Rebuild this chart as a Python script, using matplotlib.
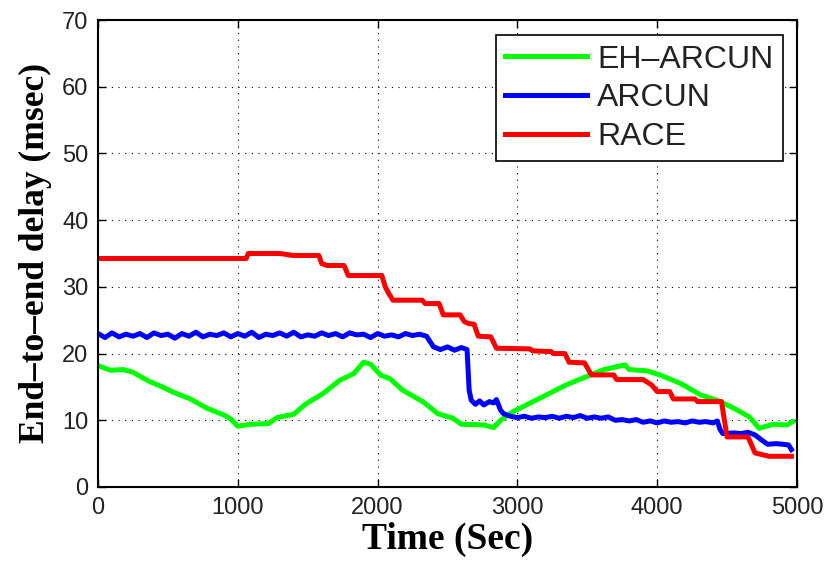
import matplotlib
matplotlib.use("Agg")
import matplotlib.pyplot as plt

# ---------------- data ----------------
eh_t = [0, 90, 180, 250, 300, 370, 450, 540, 660, 780, 900, 950, 1000, 1090, 1220, 1280,
        1400, 1490, 1610, 1730, 1830, 1900, 1950, 2020, 2090, 2180, 2330, 2430, 2540, 2600,
        2760, 2830, 2880, 2970, 3160, 3350, 3500, 3620, 3770, 3800, 3930, 4020, 4170, 4310,
        4430, 4550, 4660, 4730, 4830, 4930, 4970]
eh_v = [18.2, 17.5, 17.6, 17.2, 16.6, 15.8, 15.1, 14.2, 13.2, 11.8, 10.8, 10.2, 9.1, 9.4, 9.5, 10.4,
        10.9, 12.5, 14.0, 16.0, 17.0, 18.7, 18.4, 16.8, 16.2, 14.5, 12.7, 11.0, 10.3, 9.4,
        9.3, 8.9, 10.0, 11.3, 13.3, 15.3, 16.6, 17.6, 18.3, 17.6, 17.4, 16.8, 15.5, 13.8,
        13.0, 11.8, 10.5, 8.8, 9.4, 9.3, 9.8]

arcun_t = [0, 50, 100, 150, 200, 250, 300, 350, 400, 450,
           500, 550, 600, 650, 700, 750, 800, 850, 900, 950,
           1000, 1050, 1100, 1150, 1200, 1250, 1300, 1350, 1400, 1450,
           1500, 1550, 1600, 1650, 1700, 1750, 1800, 1850, 1900, 1950,
           2000, 2050, 2100, 2150, 2200, 2250, 2300, 2350,
           2400, 2450, 2500, 2550, 2600, 2640, 2655, 2670, 2700, 2730,
           2760, 2800, 2830, 2850, 2880, 2900, 2950, 3000, 3050, 3100,
           3150, 3200, 3250, 3300, 3350, 3400, 3450, 3500, 3550, 3600,
           3650, 3700, 3750, 3800, 3850, 3900, 3950, 4000, 4050, 4100,
           4150, 4200, 4250, 4300, 4350, 4400, 4430, 4450, 4470, 4550,
           4600, 4650, 4700, 4750, 4790, 4850, 4900, 4940, 4960]
arcun_v = [23.0, 22.4, 23.1, 22.5, 22.9, 22.6, 23.0, 22.4, 23.1, 22.7,
           22.9, 22.3, 23.0, 22.6, 23.2, 22.5, 22.9, 22.7, 23.1, 22.5,
           23.0, 22.6, 23.2, 22.4, 22.9, 22.7, 23.1, 22.6, 23.2, 22.5,
           22.8, 22.6, 23.1, 22.7, 23.0, 22.5, 23.1, 22.8, 22.9, 22.4,
           23.0, 22.6, 22.8, 22.5, 23.0, 22.7, 22.9, 22.6,
           21.0, 20.6, 21.0, 20.5, 20.9, 20.6, 14.5, 13.0, 12.4, 12.9,
           12.3, 12.8, 12.6, 13.1, 11.5, 11.0, 10.6, 10.4, 10.6, 10.3,
           10.5, 10.4, 10.6, 10.3, 10.6, 10.4, 10.7, 10.3, 10.5, 10.3,
           10.5, 10.0, 10.1, 9.9, 10.1, 9.7, 9.9, 9.6, 9.9, 9.7,
           9.8, 9.6, 9.9, 9.7, 9.8, 9.6, 9.9, 8.6, 8.0, 8.1,
           8.0, 8.2, 7.8, 7.0, 6.4, 6.5, 6.4, 6.3, 5.6]

race_t = [0, 1060, 1075, 1300, 1400, 1580, 1600, 1640, 1760, 1790, 2030, 2055, 2080, 2110,
          2320, 2340, 2440, 2470, 2590, 2620, 2650, 2690, 2720, 2810, 2850, 3090, 3110, 3240,
          3260, 3340, 3370, 3480, 3530, 3690, 3710, 3900, 3960, 4000, 4090, 4115, 4270, 4290,
          4460, 4500, 4650, 4700, 4800, 4960]
race_v = [34.25, 34.25, 35.0, 35.0, 34.7, 34.7, 33.5, 33.2, 33.2, 31.7, 31.7, 30.0, 29.0, 28.0,
          28.0, 27.5, 27.5, 25.8, 25.8, 24.8, 24.5, 24.4, 22.6, 22.5, 20.8, 20.7, 20.4, 20.3,
          20.0, 20.0, 18.7, 18.6, 16.8, 16.8, 16.1, 16.1, 15.3, 14.3, 14.3, 13.2, 13.2, 12.8,
          12.8, 7.5, 7.5, 5.1, 4.6, 4.6]

labels = ["EH\u2013ARCUN", "ARCUN", "RACE"]
x_ticks = [0, 1000, 2000, 3000, 4000, 5000]
y_ticks = [0, 10, 20, 30, 40, 50, 60, 70]

# ---------------- figure ----------------
plt.rcParams['font.family'] = ['Liberation Sans', 'DejaVu Sans']
fig = plt.figure(figsize=(8.3, 5.62), dpi=100)
ax = fig.add_axes([0.1181, 0.1335, 0.8421, 0.8309])

lw = 3.6
ax.plot(eh_t, eh_v, color=(0, 1, 0), lw=lw, label=labels[0])
ax.plot(arcun_t, arcun_v, color=(0, 0, 1), lw=lw, label=labels[1])
ax.plot(race_t, race_v, color=(1, 0, 0), lw=lw, label=labels[2])

ax.set_xlim(0, 5000)
ax.set_ylim(0, 70)
ax.set_xticks(x_ticks)
ax.set_yticks(y_ticks)
ax.tick_params(direction='in', length=6, width=1, top=True, right=True,
               labelsize=17, pad=7, colors='black')
for lab in ax.get_xticklabels() + ax.get_yticklabels():
    lab.set_color('#222222')
ax.grid(True, color='black', linestyle=(0, (1, 5)), linewidth=0.8)
for s in ax.spines.values():
    s.set_linewidth(1.5)

serif = ['Liberation Serif', 'DejaVu Serif']
ax.set_xlabel("Time (Sec)", fontsize=27, fontweight='bold', family=serif, labelpad=2)
ax.set_ylabel("End\u2013to\u2013end delay (msec)", fontsize=25.5, fontweight='bold',
              family=serif, labelpad=7)

leg = ax.legend(loc='upper right', bbox_to_anchor=(0.980, 0.968), borderaxespad=0,
                fontsize=23, handlelength=2.57, handletextpad=0.31, labelspacing=0.27,
                fancybox=False, framealpha=1, edgecolor='black', borderpad=0.3)
leg.get_frame().set_linewidth(1.2)
for t in leg.get_texts():
    t.set_color('#222222')

fig.savefig("out.png", dpi=100)
